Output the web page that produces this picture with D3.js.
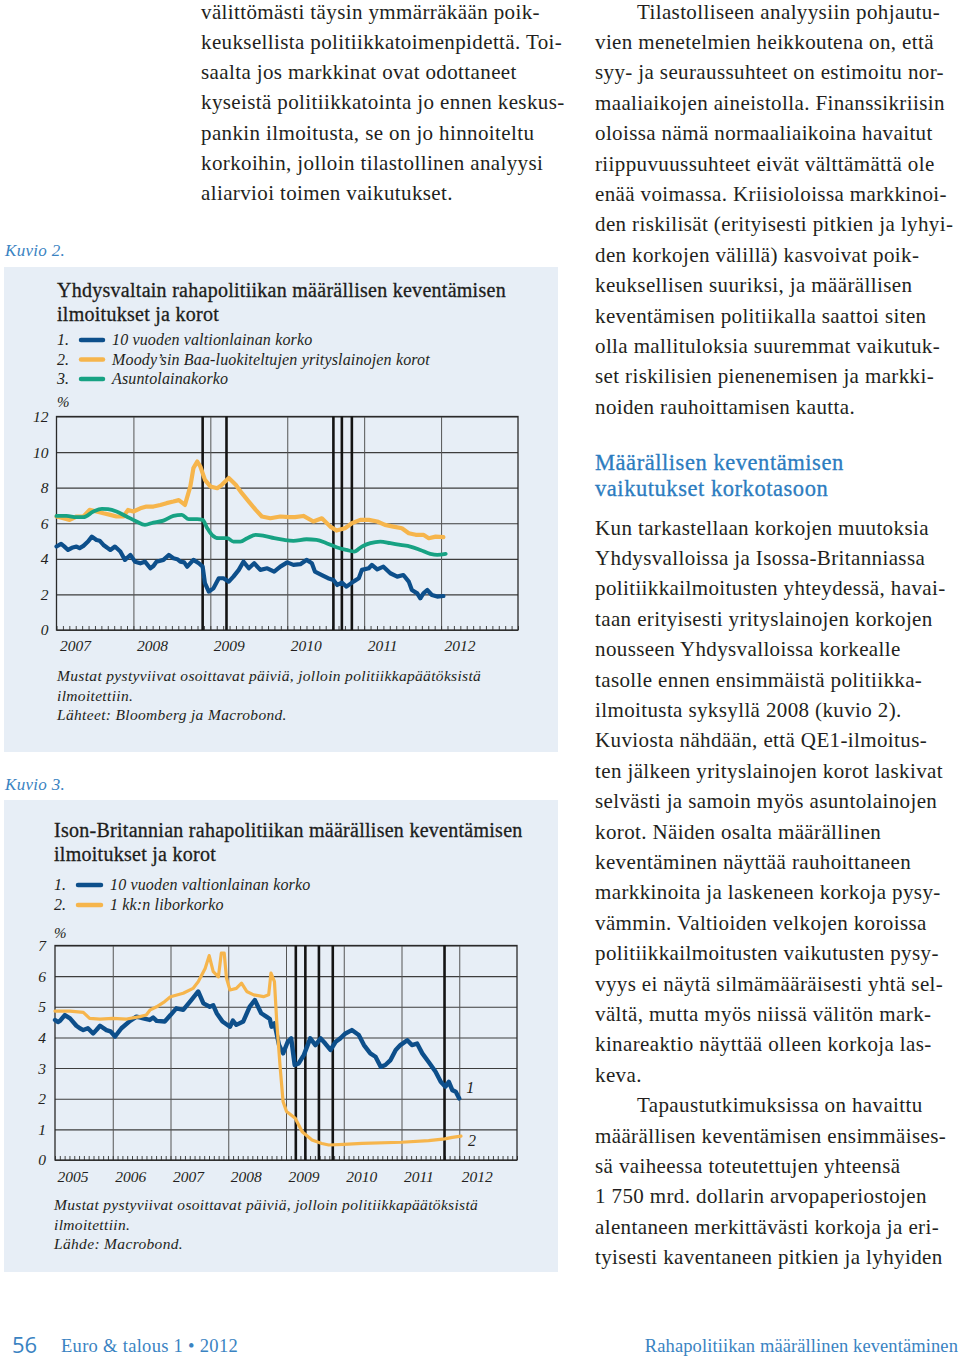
<!DOCTYPE html>
<html><head><meta charset="utf-8">
<script src="https://cdn.jsdelivr.net/npm/d3@7"></script>
<style>
body{margin:0;background:#fff;}
svg{display:block;}
text{font-family:'Liberation Serif','Times New Roman',serif;}
</style></head><body>
<svg id="page" width="960" height="1364"></svg>
<script>
// ================= DATA =================
// Chart (Kuvio 2) – USA
const usYears = [2007, 2008, 2009, 2010, 2011, 2012];
const usYTicks = [0, 2, 4, 6, 8, 10, 12];
const usPolicy = [2008.90, 2009.21, 2010.60, 2010.71, 2010.84];
const usTreasury = [[2007.00,4.69],[2007.06,4.84],[2007.10,4.70],[2007.15,4.50],[2007.20,4.62],[2007.26,4.69],[2007.30,4.60],[2007.35,4.73],[2007.41,4.97],[2007.46,5.25],[2007.52,5.06],[2007.56,5.02],[2007.61,4.78],[2007.66,4.62],[2007.70,4.50],[2007.76,4.69],[2007.83,4.41],[2007.89,3.94],[2007.96,4.22],[2008.02,3.84],[2008.09,3.75],[2008.15,3.84],[2008.22,3.47],[2008.26,3.60],[2008.30,3.84],[2008.39,3.94],[2008.46,4.22],[2008.52,4.03],[2008.57,3.98],[2008.61,3.84],[2008.66,3.80],[2008.70,3.56],[2008.78,3.94],[2008.85,3.75],[2008.90,3.56],[2008.93,2.63],[2008.98,2.16],[2009.04,2.34],[2009.11,2.91],[2009.17,2.91],[2009.24,2.72],[2009.30,3.00],[2009.37,3.38],[2009.43,3.84],[2009.50,3.47],[2009.57,3.75],[2009.65,3.38],[2009.74,3.47],[2009.83,3.28],[2009.91,3.56],[2010.00,3.80],[2010.08,3.66],[2010.17,3.70],[2010.25,3.94],[2010.32,3.75],[2010.36,3.28],[2010.45,3.09],[2010.53,2.91],[2010.60,2.81],[2010.65,2.53],[2010.71,2.66],[2010.77,2.44],[2010.86,2.72],[2010.93,2.91],[2010.97,3.38],[2011.06,3.47],[2011.10,3.66],[2011.17,3.41],[2011.25,3.56],[2011.34,3.19],[2011.43,3.00],[2011.51,3.09],[2011.58,2.72],[2011.62,2.25],[2011.69,2.06],[2011.73,1.78],[2011.77,2.06],[2011.82,2.25],[2011.88,1.97],[2011.95,1.88],[2012.03,1.91]];
const usBaa = [[2007.00,6.38],[2007.09,6.28],[2007.17,6.19],[2007.26,6.38],[2007.35,6.38],[2007.43,6.75],[2007.52,6.66],[2007.61,6.56],[2007.70,6.47],[2007.78,6.38],[2007.87,6.38],[2007.93,6.75],[2008.00,6.66],[2008.09,6.84],[2008.17,6.94],[2008.26,6.94],[2008.35,7.03],[2008.43,7.13],[2008.52,7.22],[2008.59,7.30],[2008.67,7.03],[2008.74,8.07],[2008.78,9.10],[2008.83,9.47],[2008.87,9.19],[2008.93,8.44],[2009.00,8.07],[2009.09,7.97],[2009.15,8.16],[2009.24,8.54],[2009.33,8.16],[2009.41,7.69],[2009.50,7.22],[2009.59,6.75],[2009.67,6.38],[2009.78,6.28],[2009.91,6.38],[2010.02,6.34],[2010.10,6.34],[2010.21,6.41],[2010.34,6.10],[2010.45,6.28],[2010.56,5.81],[2010.64,5.59],[2010.75,5.72],[2010.84,6.00],[2010.95,6.19],[2011.06,6.19],[2011.17,6.10],[2011.27,5.91],[2011.38,5.81],[2011.49,5.72],[2011.58,5.44],[2011.67,5.35],[2011.77,5.35],[2011.84,5.16],[2011.93,5.25],[2012.03,5.22]];
const usMortgage = [[2007.00,6.41],[2007.13,6.41],[2007.26,6.34],[2007.35,6.34],[2007.48,6.66],[2007.59,6.81],[2007.67,6.79],[2007.78,6.66],[2007.91,6.38],[2008.04,6.10],[2008.15,5.91],[2008.26,6.04],[2008.39,6.15],[2008.52,6.41],[2008.63,6.47],[2008.72,6.23],[2008.83,6.23],[2008.90,6.19],[2008.96,5.72],[2009.02,5.35],[2009.11,5.16],[2009.22,5.16],[2009.30,4.97],[2009.39,4.97],[2009.48,5.16],[2009.59,5.35],[2009.70,5.29],[2009.83,5.16],[2009.96,5.06],[2010.08,5.01],[2010.25,5.10],[2010.38,5.06],[2010.51,4.88],[2010.64,4.65],[2010.77,4.50],[2010.87,4.41],[2010.97,4.69],[2011.08,4.88],[2011.21,4.97],[2011.34,4.88],[2011.47,4.78],[2011.60,4.69],[2011.73,4.50],[2011.86,4.28],[2011.95,4.22],[2012.06,4.28]];
const usLegend = ["10 vuoden valtionlainan korko", "Moody’sin Baa-luokiteltujen yrityslainojen korot", "Asuntolainakorko"];

// Chart (Kuvio 3) – UK
const ukYears = [2005, 2006, 2007, 2008, 2009, 2010, 2011, 2012];
const ukYTicks = [0, 1, 2, 3, 4, 5, 6, 7];
const ukPolicy = [2009.17, 2009.335, 2009.57, 2009.81, 2011.745];
const ukGilt = [[2005.00,4.57],[2005.05,4.50],[2005.09,4.55],[2005.17,4.73],[2005.26,4.62],[2005.37,4.38],[2005.43,4.30],[2005.49,4.24],[2005.57,4.30],[2005.66,4.13],[2005.72,4.25],[2005.78,4.38],[2005.89,4.24],[2005.96,4.20],[2006.04,4.03],[2006.15,4.30],[2006.30,4.54],[2006.41,4.68],[2006.53,4.62],[2006.64,4.57],[2006.70,4.65],[2006.76,4.54],[2006.90,4.52],[2007.00,4.73],[2007.10,4.95],[2007.22,4.90],[2007.36,5.22],[2007.48,5.50],[2007.57,5.11],[2007.68,5.00],[2007.74,5.05],[2007.80,4.79],[2007.90,4.52],[2008.03,4.35],[2008.08,4.55],[2008.14,4.41],[2008.26,4.52],[2008.37,5.00],[2008.46,5.22],[2008.57,4.79],[2008.66,4.68],[2008.72,4.60],[2008.75,4.35],[2008.80,4.46],[2008.88,3.75],[2008.95,3.48],[2009.03,3.86],[2009.09,3.97],[2009.15,3.10],[2009.22,3.15],[2009.31,3.43],[2009.42,3.97],[2009.51,3.75],[2009.60,3.97],[2009.68,3.80],[2009.77,3.59],[2009.86,3.86],[2009.94,3.97],[2010.03,4.13],[2010.14,4.24],[2010.26,4.08],[2010.35,3.75],[2010.46,3.48],[2010.55,3.37],[2010.64,3.04],[2010.72,3.10],[2010.81,3.26],[2010.90,3.59],[2010.98,3.75],[2011.10,3.91],[2011.18,3.75],[2011.27,3.80],[2011.36,3.48],[2011.47,3.20],[2011.59,2.88],[2011.68,2.55],[2011.76,2.39],[2011.82,2.55],[2011.88,2.28],[2011.94,2.23],[2012.00,2.01]];
const ukLibor = [[2005.00,4.86],[2005.26,4.86],[2005.49,4.82],[2005.60,4.62],[2005.78,4.60],[2006.00,4.62],[2006.24,4.60],[2006.47,4.68],[2006.58,4.73],[2006.65,4.90],[2006.76,5.00],[2006.90,5.17],[2007.00,5.33],[2007.22,5.44],[2007.39,5.60],[2007.48,5.82],[2007.60,6.25],[2007.67,6.67],[2007.74,6.15],[2007.83,5.98],[2007.88,6.75],[2007.93,6.75],[2007.97,5.93],[2008.03,5.55],[2008.14,5.60],[2008.23,5.77],[2008.32,5.50],[2008.44,5.39],[2008.61,5.33],[2008.70,5.39],[2008.74,6.10],[2008.80,5.82],[2008.84,4.50],[2008.90,3.00],[2008.95,1.90],[2009.01,1.58],[2009.16,1.36],[2009.28,0.92],[2009.45,0.65],[2009.62,0.54],[2009.74,0.49],[2010.00,0.51],[2010.32,0.54],[2011.00,0.58],[2011.47,0.63],[2011.75,0.69],[2011.88,0.74],[2012.03,0.78]];
const ukLegend = ["10 vuoden valtionlainan korko", "1 kk:n liborkorko"];
const ukEndLabels = ["1", "2"];

// Text
const leftColumn = ["välittömästi täysin ymmärräkään poik-","keuksellista politiikkatoimenpidettä. Toi-","saalta jos markkinat ovat odottaneet","kyseistä politiikkatointa jo ennen keskus-","pankin ilmoitusta, se on jo hinnoiteltu","korkoihin, jolloin tilastollinen analyysi","aliarvioi toimen vaikutukset."];
const rightColumnA = ["Tilastolliseen analyysiin pohjautu-","vien menetelmien heikkoutena on, että","syy- ja seuraussuhteet on estimoitu nor-","maaliaikojen aineistolla. Finanssikriisin","oloissa nämä normaaliaikoina havaitut","riippuvuussuhteet eivät välttämättä ole","enää voimassa. Kriisioloissa markkinoi-","den riskilisät (erityisesti pitkien ja lyhyi-","den korkojen välillä) kasvoivat poik-","keuksellisen suuriksi, ja määrällisen","keventämisen politiikalla saattoi siten","olla mallituloksia suuremmat vaikutuk-","set riskilisien pienenemisen ja markki-","noiden rauhoittamisen kautta."];
const heading = ["Määrällisen keventämisen","vaikutukset korkotasoon"];
const rightColumnB = ["Kun tarkastellaan korkojen muutoksia","Yhdysvalloissa ja Isossa-Britanniassa","politiikkailmoitusten yhteydessä, havai-","taan erityisesti yrityslainojen korkojen","nousseen Yhdysvalloissa korkealle","tasolle ennen ensimmäistä politiikka-","ilmoitusta syksyllä 2008 (kuvio 2).","Kuviosta nähdään, että QE1-ilmoitus-","ten jälkeen yrityslainojen korot laskivat","selvästi ja samoin myös asuntolainojen","korot. Näiden osalta määrällinen","keventäminen näyttää rauhoittaneen","markkinoita ja laskeneen korkoja pysy-","vämmin. Valtioiden velkojen koroissa","politiikkailmoitusten vaikutusten pysy-","vyys ei näytä silmämääräisesti yhtä sel-","vältä, mutta myös niissä välitön mark-","kinareaktio näyttää olleen korkoja las-","keva.","Tapaustutkimuksissa on havaittu","määrällisen keventämisen ensimmäises-","sä vaiheessa toteutettujen yhteensä","1 750 mrd. dollarin arvopaperiostojen","alentaneen merkittävästi korkoja ja eri-","tyisesti kaventaneen pitkien ja lyhyiden"];

// ================= DRAW =================
const C = {blue:"#0d4f8b", orange:"#f6b54c", green:"#17a283", box:"#e7eef6", accent:"#3a83c2", ink:"#231f20"};
const svg = d3.select("#page");
svg.append("rect").attr("width",960).attr("height",1364).attr("fill","#fff");

function lines(arr, x, y0, step, opts={}) {
  const g = svg.append("g");
  arr.forEach((t,i)=>{
    const tx = (opts.indent && opts.indent.includes(i)) ? x + opts.indentW : x;
    const el = g.append("text").attr("x",tx).attr("y",y0+i*step).text(t)
      .attr("font-size",opts.size||20).attr("fill",opts.fill||C.ink)
      .attr("letter-spacing",opts.ls||0)
      .attr("font-style",opts.italic?"italic":"normal");
    if (opts.stroke) el.attr("stroke",opts.fill).attr("stroke-width",opts.stroke);
  });
  return g;
}

// body text
lines(leftColumn, 201, 18.5, 30.3, {size:21, ls:0.38});
lines(rightColumnA, 595, 18.5, 30.4, {size:21, ls:0.38, indent:[0], indentW:42});
lines(heading, 595, 469.5, 26, {size:22.5, ls:0.55, fill:"#2c7cc0", stroke:0.3});
lines(rightColumnB, 595, 534.5, 30.4, {size:21, ls:0.38, indent:[19], indentW:42});

// Kuvio labels
svg.append("text").attr("x",5).attr("y",256).text("Kuvio 2.").attr("font-size",17).attr("font-style","italic").attr("fill",C.accent).attr("letter-spacing",0.3);
svg.append("text").attr("x",5).attr("y",790).text("Kuvio 3.").attr("font-size",17).attr("font-style","italic").attr("fill",C.accent).attr("letter-spacing",0.3);

// footer
svg.append("text").attr("x",12).attr("y",1353).text("56").attr("font-size",22).attr("fill",C.accent)
   .style("font-family","'Open Sans','DejaVu Sans',sans-serif");
svg.append("text").attr("x",61).attr("y",1352).text("Euro & talous 1 • 2012").attr("font-size",18.5).attr("fill",C.accent).attr("letter-spacing",0.3);
svg.append("text").attr("x",958).attr("y",1352).attr("text-anchor","end").text("Rahapolitiikan määrällinen keventäminen").attr("font-size",18.5).attr("fill",C.accent).attr("letter-spacing",0.1);

function drawChart(cfg) {
  const g = svg.append("g");
  g.append("rect").attr("x",cfg.box[0]).attr("y",cfg.box[1]).attr("width",cfg.box[2]-cfg.box[0]).attr("height",cfg.box[3]-cfg.box[1]).attr("fill",C.box);
  // title
  cfg.title.forEach((t,i)=> g.append("text").attr("x",cfg.tx).attr("y",cfg.titleY+i*24).text(t)
     .attr("font-size",20).attr("letter-spacing",0.27).attr("fill","#1d1d1b").attr("stroke","#1d1d1b").attr("stroke-width",0.3));
  // legend
  cfg.legend.forEach((t,i)=>{
    const yy = cfg.legY + i*cfg.legStep;
    g.append("text").attr("x",cfg.tx).attr("y",yy).text((i+1)+".").attr("font-size",16).attr("font-style","italic").attr("fill",C.ink);
    g.append("line").attr("x1",cfg.swatch[0]).attr("x2",cfg.swatch[1]).attr("y1",yy-5).attr("y2",yy-5)
      .attr("stroke",cfg.series[i].color).attr("stroke-width",4.5).attr("stroke-linecap","round");
    g.append("text").attr("x",cfg.swatch[2]).attr("y",yy).text(t).attr("font-size",16).attr("letter-spacing",0.15).attr("font-style","italic").attr("fill",C.ink);
  });
  g.append("text").attr("x",cfg.tx).attr("y",cfg.pctY).text("%").attr("font-size",15).attr("font-style","italic").attr("fill",C.ink);

  const x = d3.scaleLinear().domain([cfg.years[0], cfg.years[cfg.years.length-1]+1]).range([cfg.x0, cfg.x1]);
  const y = d3.scaleLinear().domain([0, d3.max(cfg.yTicks)]).range([cfg.yb, cfg.yt]);
  const W = cfg.x1-cfg.x0, H = cfg.yb-cfg.yt;

  // horizontal grid
  g.append("g").attr("transform",`translate(${cfg.x0},0)`)
    .call(d3.axisLeft(y).tickValues(cfg.yTicks).tickSize(-W).tickFormat(""))
    .call(a=>a.select(".domain").remove())
    .call(a=>a.selectAll("line").attr("stroke","#3d3d3d").attr("stroke-width",1.1));
  // vertical grid
  g.append("g").attr("transform",`translate(0,${cfg.yb})`)
    .call(d3.axisBottom(x).tickValues(cfg.years.slice(1)).tickSize(H).tickFormat(""))
    .call(a=>a.select(".domain").remove())
    .call(a=>a.selectAll("line").attr("stroke","#555").attr("stroke-width",1).attr("y2",-H));
  // minor monthly ticks
  const months = d3.range(0, cfg.years.length*12+1).map(m=>cfg.years[0]+m/12);
  g.append("g").attr("transform",`translate(0,${cfg.yb})`)
    .call(d3.axisBottom(x).tickValues(months).tickSize(0).tickFormat(""))
    .call(a=>a.select(".domain").remove())
    .call(a=>a.selectAll("line").attr("stroke","#333").attr("stroke-width",0.9).attr("y2",-4));
  // frame
  g.append("rect").attr("x",cfg.x0).attr("y",cfg.yt).attr("width",W).attr("height",H)
    .attr("fill","none").attr("stroke","#2a2a2a").attr("stroke-width",1.3);
  // policy lines
  g.append("g").selectAll("line").data(cfg.policy).join("line")
    .attr("x1",d=>x(d)).attr("x2",d=>x(d)).attr("y1",cfg.yt).attr("y2",cfg.yb)
    .attr("stroke","#141414").attr("stroke-width",2.6);
  // series
  cfg.series.forEach(s=>{
    g.append("path").datum(s.data)
      .attr("d", d3.line().x(d=>x(d[0])).y(d=>y(d[1])).curve(s.curve||d3.curveLinear))
      .attr("fill","none").attr("stroke",s.color).attr("stroke-width",s.width).attr("stroke-linejoin","round").attr("stroke-linecap","round");
  });
  // y labels
  g.append("g").attr("transform",`translate(${cfg.x0},0)`)
    .call(d3.axisLeft(y).tickValues(cfg.yTicks).tickSize(0).tickPadding(cfg.yPad).tickFormat(d3.format("d")))
    .call(a=>a.select(".domain").remove())
    .call(a=>a.selectAll("text").attr("font-size",15.5).attr("font-style","italic").attr("fill",C.ink)
          .style("font-family","'Liberation Serif',serif"));
  // x labels
  g.append("g").attr("transform",`translate(0,${cfg.yb})`)
    .call(d3.axisBottom(x).tickValues(cfg.years).tickSize(0).tickPadding(0).tickFormat(d3.format("d")))
    .call(a=>a.select(".domain").remove())
    .call(a=>a.selectAll("text").attr("text-anchor","start").attr("dx",cfg.xlDx).attr("dy",0).attr("y",cfg.xlY)
          .attr("font-size",15.5).attr("font-style","italic").attr("fill",C.ink)
          .style("font-family","'Liberation Serif',serif"));
  // end labels
  if (cfg.endLabels) cfg.endLabels.forEach((t,i)=>{
    const last = cfg.series[i].data[cfg.series[i].data.length-1];
    g.append("text").attr("x",x(last[0])+cfg.endDx).attr("y",y(last[1])+cfg.endDy[i]).text(t)
      .attr("font-size",16).attr("font-style","italic").attr("fill",C.ink);
  });
  // notes
  cfg.notes.forEach((t,i)=> g.append("text").attr("x",cfg.tx).attr("y",cfg.noteY+i*19.5).text(t)
    .attr("font-size",15.5).attr("letter-spacing",0.33).attr("font-style","italic").attr("fill",C.ink));
}

drawChart({
  box:[4,267,558,752], tx:57, titleY:297,
  title:["Yhdysvaltain rahapolitiikan määrällisen keventämisen","ilmoitukset ja korot"],
  legend:usLegend, legY:345, legStep:19.5, swatch:[81,103,112], pctY:407,
  years:usYears, yTicks:usYTicks, x0:56.5, x1:518, yt:416.5, yb:630, yPad:8,
  xlDx:3, xlY:21,
  policy:usPolicy,
  series:[{data:usTreasury,color:C.blue,width:4.2},{data:usBaa,color:C.orange,width:4.2},{data:usMortgage,color:C.green,width:3.8,curve:d3.curveMonotoneX}],
  notes:["Mustat pystyviivat osoittavat päiviä, jolloin politiikkapäätöksistä","ilmoitettiin.","Lähteet: Bloomberg ja Macrobond."], noteY:681
});

drawChart({
  box:[4,800,558,1272], tx:54, titleY:837,
  title:["Ison-Britannian rahapolitiikan määrällisen keventämisen","ilmoitukset ja korot"],
  legend:ukLegend, legY:890, legStep:20, swatch:[78,101,110], pctY:938,
  years:ukYears, yTicks:ukYTicks, x0:55, x1:517, yt:945.5, yb:1160, yPad:9,
  xlDx:2, xlY:22,
  policy:ukPolicy,
  series:[{data:ukGilt,color:C.blue,width:4.4},{data:ukLibor,color:C.orange,width:3.2}],
  endLabels:ukEndLabels, endDx:7, endDy:[-5,10],
  notes:["Mustat pystyviivat osoittavat päiviä, jolloin politiikkapäätöksistä","ilmoitettiin.","Lähde: Macrobond."], noteY:1210
});
</script>
</body></html>
